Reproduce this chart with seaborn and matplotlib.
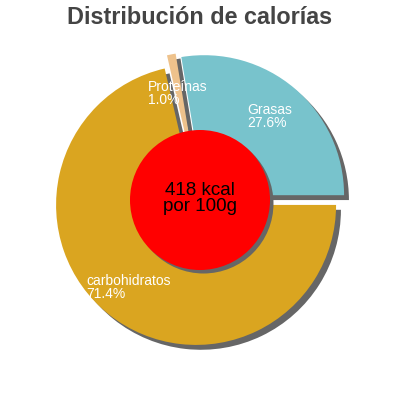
import matplotlib
matplotlib.use("Agg")
import matplotlib.pyplot as plt
import seaborn as sns
from matplotlib.patches import Circle

sns.set_theme(style="white")
plt.rcParams['font.family'] = ['Liberation Sans', 'DejaVu Sans']

categories = ["Grasas", "Proteínas", "carbohidratos"]
values = [27.6, 1.0, 71.4]
colors = ["#78c3cc", "#eec28c", "#daa520"]
title = "Distribución de calorías"
center_text = "418 kcal\npor 100g"

R = 140.0
fig = plt.figure(figsize=(4, 4), dpi=100)
ax = fig.add_axes([0, 0, 1, 1])

shadow = dict(ox=0.025, oy=-0.025, facecolor='#666666', edgecolor='#666666', alpha=1, shade=0)
wedges, _ = ax.pie(values, colors=colors, startangle=0, counterclock=True,
                   explode=[0.045, 0.06, 0.045], radius=1.0, center=(0, 0),
                   shadow=shadow, wedgeprops=dict(linewidth=0))
ax.set_xlim(-200 / R, 200 / R)
ax.set_ylim(-200 / R, 200 / R)
ax.set_aspect('equal')
ax.axis('off')

def px(x, y):
    return ((x - 200) / R, (200 - y) / R)

# center circle with shadow
ax.add_patch(Circle((0.025, -0.025), 0.5, facecolor='#666666', edgecolor='none', zorder=5))
ax.add_patch(Circle((0, 0), 0.5, facecolor='#ff0000', edgecolor='none', zorder=6))
ax.text(0, 0.01, center_text, ha='center', va='center', fontsize=13.5, color='black',
        linespacing=0.95, zorder=7)

label_pos = {"Grasas": (247, 103), "carbohidratos": (86, 274), "Proteínas": (148, 80)}
for cat, v in zip(categories, values):
    x, y = px(*label_pos[cat])
    ax.text(x, y, f"{cat}\n{v:.1f}%", ha='left', va='top', fontsize=10, color='white',
            linespacing=0.9, zorder=8)

fig.text(0.5, 1 - 17 / 400, title, ha='center', va='center', fontsize=16.8,
         fontweight='bold', color='#444444')

fig.savefig("out.png", dpi=100)
